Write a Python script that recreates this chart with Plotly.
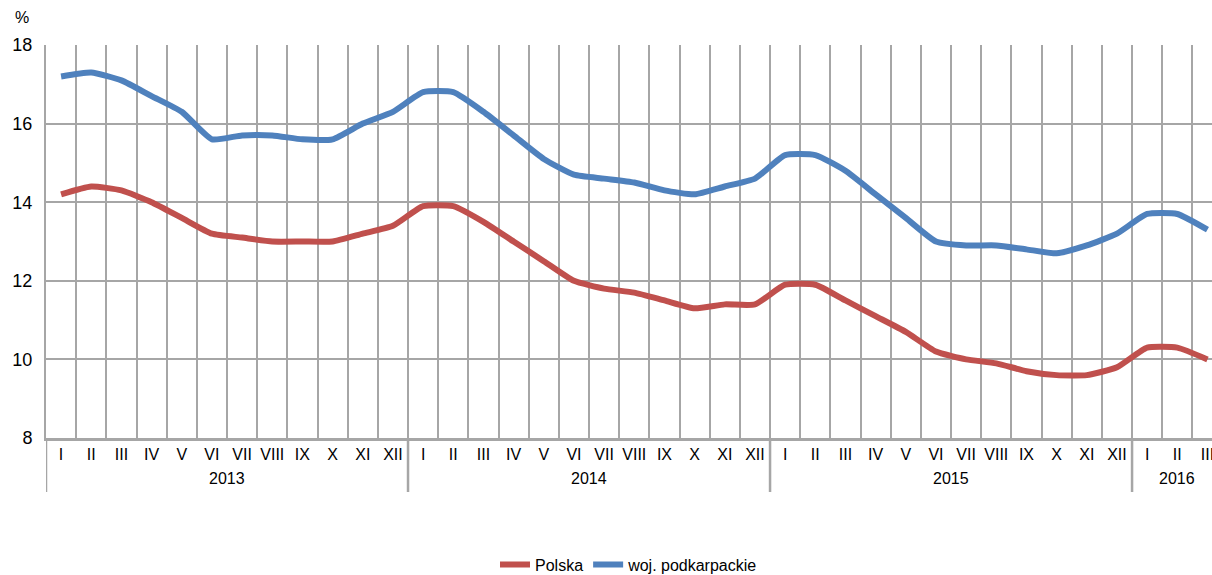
import plotly.graph_objects as go

years = ["2013"] * 12 + ["2014"] * 12 + ["2015"] * 12 + ["2016"] * 3
months_all = ["I", "II", "III", "IV", "V", "VI", "VII", "VIII", "IX", "X", "XI", "XII"]
months = months_all * 3 + ["I", "II", "III"]

polska = [14.2, 14.4, 14.3, 14.0, 13.6, 13.2, 13.1, 13.0, 13.0, 13.0, 13.2, 13.4,
          13.9, 13.9, 13.5, 13.0, 12.5, 12.0, 11.8, 11.7, 11.5, 11.3, 11.4, 11.4,
          11.9, 11.9, 11.5, 11.1, 10.7, 10.2, 10.0, 9.9, 9.7, 9.6, 9.6, 9.8,
          10.3, 10.3, 10.0]
podkarpackie = [17.2, 17.3, 17.1, 16.7, 16.3, 15.6, 15.7, 15.7, 15.6, 15.6, 16.0, 16.3,
                16.8, 16.8, 16.3, 15.7, 15.1, 14.7, 14.6, 14.5, 14.3, 14.2, 14.4, 14.6,
                15.2, 15.2, 14.8, 14.2, 13.6, 13.0, 12.9, 12.9, 12.8, 12.7, 12.9, 13.2,
                13.7, 13.7, 13.3]

FONT = "Liberation Sans, Arial, sans-serif"
GRID = "#A6A6A6"

idx = list(range(len(months)))

fig = go.Figure()
fig.add_trace(go.Scatter(x=idx, y=polska, name="Polska", mode="lines",
                         line=dict(color="#C0504D", width=6, shape="spline", smoothing=0.5)))
fig.add_trace(go.Scatter(x=idx, y=podkarpackie, name="woj. podkarpackie", mode="lines",
                         line=dict(color="#4F81BD", width=6, shape="spline", smoothing=0.5)))

# year groups: boundaries and centres derived from the years list
groups = []
for i, y in enumerate(years):
    if not groups or groups[-1][0] != y:
        groups.append([y, i, i])
    else:
        groups[-1][2] = i

annotations = [dict(text="%", x=-0.0205, y=1.07, xref="paper", yref="paper",
                    yanchor="middle", xanchor="center", showarrow=False,
                    font=dict(size=16))]
shapes = []
for name, a, b in groups:
    annotations.append(dict(text=name, x=(a + b) / 2, y=-0.102, xref="x", yref="paper",
                            xanchor="center", yanchor="middle", showarrow=False,
                            font=dict(size=16)))
    shapes.append(dict(type="line", xref="x", yref="paper", x0=a - 0.5, x1=a - 0.5,
                       y0=0, y1=-0.1374, line=dict(color=GRID, width=2.5)))

fig.update_layout(
    width=1212, height=575,
    margin=dict(l=46, r=0, t=45, b=137),
    paper_bgcolor="white", plot_bgcolor="white",
    font=dict(family=FONT, size=16, color="black"),
    showlegend=True,
    legend=dict(orientation="h", x=0.5, xanchor="center", yref="container", y=0.018,
                yanchor="middle", font=dict(size=16)),
    xaxis=dict(range=[-0.5, 38.15], automargin=False, tickmode="array", tickvals=idx,
               ticktext=months, showgrid=False, showline=True, linecolor=GRID,
               linewidth=2.5, ticks="", tickangle=0, tickfont=dict(size=16), zeroline=False,
               ticklabeloverflow="allow",
               minor=dict(tickmode="array", tickvals=[i - 0.5 for i in idx] + [idx[-1] + 0.5],
                          showgrid=True, gridcolor=GRID, gridwidth=1.5, ticks="")),
    yaxis=dict(range=[8, 18], dtick=2, automargin=False, showgrid=True, gridcolor=GRID,
               gridwidth=1.5, showline=True, linecolor=GRID, linewidth=2, ticks="",
               ticklabelstandoff=8, tickfont=dict(size=18), zeroline=False),
    annotations=annotations,
    shapes=shapes,
)
fig.write_html("out.html", config={"displayModeBar": False},
               post_script="document.body.style.margin='0';")
